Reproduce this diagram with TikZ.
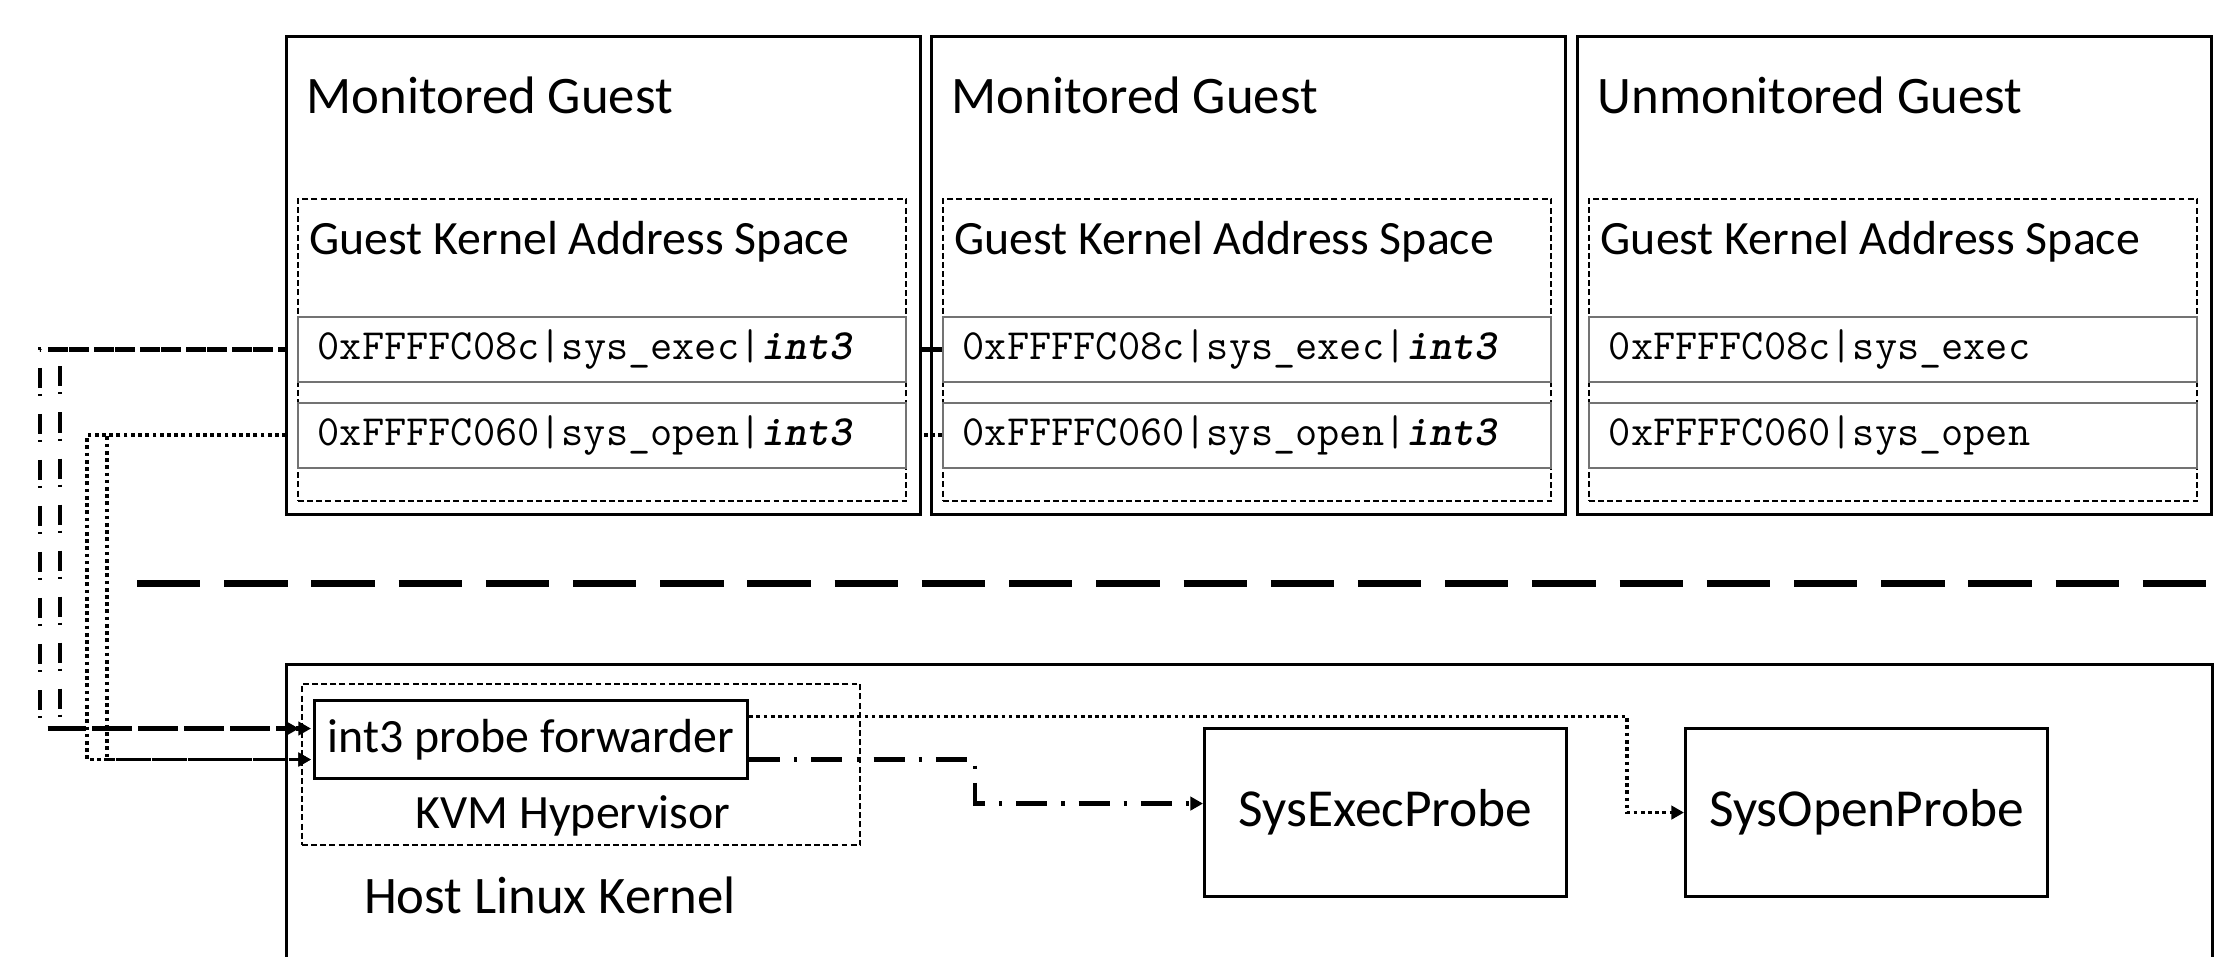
\documentclass[tikz,border=0pt]{standalone}
\usepackage{fontspec}
\setmainfont{Carlito}
\usetikzlibrary{positioning,calc,arrows.meta}
\pgfdeclarelayer{background}
\pgfsetlayers{background,main}

\tikzset{
  guest/.style={draw, line width=0.85pt, anchor=north west, minimum width=6.34cm, minimum height=4.78cm, inner sep=0pt},
  kspace/.style={draw, dash pattern=on 1.7pt off 0.9pt, line width=0.6pt, anchor=north west, minimum width=6.08cm, minimum height=3.02cm, inner sep=0pt},
  slot/.style={draw=black!55, line width=0.45pt, anchor=north west, minimum width=6.08cm, minimum height=0.65cm, inner xsep=0.2cm, inner ysep=0pt, text width=5.68cm, align=left, font=\fontsize{12.25}{14}\ttfamily},
  gtitle/.style={anchor=base west, inner sep=0pt, font=\fontsize{15}{18}\selectfont},
  ktitle/.style={anchor=base west, inner sep=0pt, font=\fontsize{13.6}{16}\selectfont},
  probe/.style={draw, line width=0.85pt, anchor=north west, minimum width=3.62cm, minimum height=1.68cm, inner sep=0pt, font=\fontsize{15.2}{18}\selectfont},
  tip/.style={-{Triangle[length=3.6pt,width=3.8pt]}},
  execfeed/.style={tip, line width=1.3pt, dash pattern=on 0.2cm off 0.06cm on 0.02cm off 0.18cm},
  execlink/.style={tip, line width=1.3pt, dash pattern=on 8.8pt off 4pt on 0.9pt off 4pt},
  openlink/.style={tip, line width=1.05pt, dash pattern=on 1.05pt off 1pt},
  splitline/.style={line width=2pt, dash pattern=on 18pt off 6.8pt}
}
\newcommand{\brk}{\textbf{\textit{int3}}}

\begin{document}
\begin{tikzpicture}[x=0.01cm,y=-0.01cm]
\clip (0,0) rectangle (2214,956);

\node[guest,fill=white] (g1) at (285,35) {};
\node[guest] (g2) at (930,35) {};
\node[guest] (g3) at (1576,35) {};

\node[gtitle] at ($(g1.north west)+(21,78)$) {Monitored Guest};
\node[gtitle] at ($(g2.north west)+(21,78)$) {Monitored Guest};
\node[gtitle] at ($(g3.north west)+(21,78)$) {Unmonitored Guest};

\node[kspace] (k1) at ($(g1.north west)+(12,163)$) {};
\node[kspace] (k2) at ($(g2.north west)+(12,163)$) {};
\node[kspace] (k3) at ($(g3.north west)+(12,163)$) {};

\node[ktitle] at ($(k1.north west)+(12,56)$) {Guest Kernel Address Space};
\node[ktitle] at ($(k2.north west)+(12,56)$) {Guest Kernel Address Space};
\node[ktitle] at ($(k3.north west)+(12,56)$) {Guest Kernel Address Space};

\node[slot] (g1r1) at ($(k1.north west)+(0,118)$) {0xFFFFC08c|sys\_exec|\brk};
\node[slot] (g1r2) at ($(k1.north west)+(0,204)$) {0xFFFFC060|sys\_open|\brk};
\node[slot] (g2r1) at ($(k2.north west)+(0,118)$) {0xFFFFC08c|sys\_exec|\brk};
\node[slot] (g2r2) at ($(k2.north west)+(0,204)$) {0xFFFFC060|sys\_open|\brk};
\node[slot] (g3r1) at ($(k3.north west)+(0,118)$) {0xFFFFC08c|sys\_exec};
\node[slot] (g3r2) at ($(k3.north west)+(0,204)$) {0xFFFFC060|sys\_open};

\coordinate (sepL) at (137,583);
\coordinate (sepR) at (2214,583);
\draw[splitline] (sepL) -- (sepR);

\node[draw, line width=0.85pt, anchor=north west, minimum width=19.25cm, minimum height=4cm] (host) at (285,663) {};
\node[draw, dash pattern=on 1.7pt off 0.9pt, line width=0.6pt, anchor=north west, minimum width=5.58cm, minimum height=1.61cm] (kvm) at (301,683) {};
\node[draw, line width=0.85pt, anchor=north west, minimum width=4.33cm, minimum height=0.78cm, inner sep=0pt, font=\fontsize{13.6}{16}\selectfont] (fwd) at (313,699) {int3 probe forwarder};
\node[font=\fontsize{13.6}{16}\selectfont] (kvmlbl) at (573,816) {KVM Hypervisor};
\node[font=\fontsize{15}{18}\selectfont] (hostlbl) at (550,895) {Host Linux Kernel};

\node[probe] (sexec) at (1203,727) {SysExecProbe};
\node[probe] (sopen) at (1684,727) {SysOpenProbe};

\coordinate (laneA) at (40,0);
\coordinate (laneB) at (60,0);
\coordinate (laneC) at (87,0);
\coordinate (laneD) at (107,0);

\begin{pgfonlayer}{background}
\draw[execfeed] (g2r1.west) -- (g2r1.west -| laneA) |- ($(fwd.west)+(-14,-11)$);
\draw[execfeed, dash phase=0.22cm] (g1r1.west) -- (g1r1.west -| laneB) |- ($(fwd.west)+(-2,-11)$);
\draw[openlink] (g2r2.west) -- (g2r2.west -| laneC) |- ($(fwd.west)+(-2,20)$);
\draw[openlink, dash phase=1pt] (g1r2.west) -- (g1r2.west -| laneD) |- ($(fwd.west)+(-2,20)$);
\draw[execlink] ($(fwd.east)+(0,20)$) -| ($(sexec.west)+(-228,-9)$) -- ($(sexec.west)+(0,-9)$);
\draw[openlink] ($(fwd.east)+(0,-23)$) -| ($(sopen.west)+(-57,0)$) -- (sopen.west);
\end{pgfonlayer}
\end{tikzpicture}
\end{document}
